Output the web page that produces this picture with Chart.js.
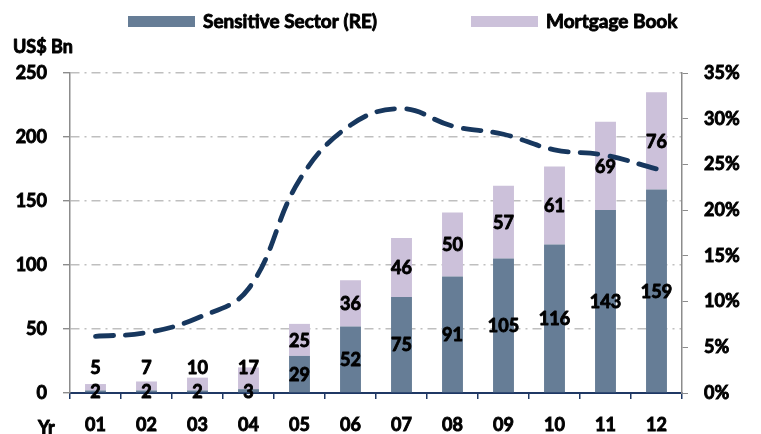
<!DOCTYPE html>
<html><head><meta charset="utf-8">
<script src="https://cdn.jsdelivr.net/npm/chart.js@4/dist/chart.umd.min.js"></script>
<style>html,body{margin:0;padding:0;background:#fff;}#wrap{width:761px;height:434px;}</style>
</head><body><div id="wrap"><canvas id="c" width="761" height="434"></canvas></div>
<script>
const categories = ['01','02','03','04','05','06','07','08','09','10','11','12'];
const sensitiveRE = [2,2,2,3,29,52,75,91,105,116,143,159];
const mortgageBook = [5,7,10,17,25,36,46,50,57,61,69,76];
const sharePct = [6.2,6.6,8.2,11.4,23.3,29.3,31.1,29.2,28.3,26.6,26.0,24.5];
const leftTicks = [0,50,100,150,200,250];
const rightTicks = [0,5,10,15,20,25,30,35];
const seriesNames = ['Sensitive Sector (RE)','Mortgage Book'];

const FONT = 'Lato';
const WEIGHT = 'bold';
const STROKE = 0.9;
const C_DARK = '#667D96';
const C_LIGHT = '#CCC1DA';
const C_LINE = '#17375E';

function boldText(ctx, t, x, y){
  ctx.lineWidth = STROKE;
  ctx.strokeStyle = '#000';
  ctx.lineJoin = 'round';
  ctx.strokeText(t, x, y);
  ctx.fillText(t, x, y);
}

const labelPlugin = {
  id:'barLabels',
  afterDatasetsDraw(chart){
    const ctx = chart.ctx;
    ctx.save();
    ctx.font = WEIGHT + ' 18px ' + FONT;
    ctx.fillStyle = '#000';
    ctx.textAlign = 'center';
    ctx.textBaseline = 'middle';
    const floorY = chart.scales.y.getPixelForValue(0) - 26;
    [1,2].forEach(di=>{
      const meta = chart.getDatasetMeta(di);
      meta.data.forEach((bar,i)=>{
        const v = chart.data.datasets[di].data[i];
        let y = (bar.y + bar.base)/2;
        if (di===2) y = Math.min(y, floorY);
        boldText(ctx, String(v), bar.x, y+1);
      });
    });
    ctx.restore();
  }
};

const extraText = {
  id:'extraText',
  afterDraw(chart){
    const ctx = chart.ctx;
    ctx.save();
    ctx.font = WEIGHT + ' 18px ' + FONT;
    ctx.fillStyle = '#000';
    ctx.textBaseline = 'middle';
    ctx.textAlign = 'left';
    boldText(ctx, 'US$ Bn', 13, 47);
    boldText(ctx, 'Yr', 38, 428);
    ctx.font = WEIGHT + ' 19px ' + FONT;
    const items = [
      {x:128, color:C_DARK, text:seriesNames[0]},
      {x:471, color:C_LIGHT, text:seriesNames[1]}
    ];
    items.forEach(it=>{
      ctx.fillStyle = it.color;
      ctx.fillRect(it.x, 16, 67, 11);
      ctx.fillStyle = '#000';
      boldText(ctx, it.text, it.x + 75, 21.5);
    });
    ctx.restore();
  }
};

const tickFont = {family:FONT, size:18, weight:WEIGHT};

new Chart(document.getElementById('c'), {
  data:{
    labels: categories,
    datasets:[
      {type:'line', label:'share', data:sharePct, yAxisID:'y1', borderColor:C_LINE, borderWidth:4.8,
       borderDash:[18,12], borderCapStyle:'round', tension:0.4, pointRadius:0, fill:false, order:0},
      {type:'bar', label:seriesNames[0], data:sensitiveRE, backgroundColor:C_DARK, yAxisID:'y',
       barPercentage:0.82, categoryPercentage:0.5, order:1, stack:'s'},
      {type:'bar', label:seriesNames[1], data:mortgageBook, backgroundColor:C_LIGHT, yAxisID:'y',
       barPercentage:0.82, categoryPercentage:0.5, order:1, stack:'s'}
    ]
  },
  options:{
    responsive:false,
    animation:false,
    layout:{padding:{top:73,left:0,right:0,bottom:0}},
    plugins:{legend:{display:false}, tooltip:{enabled:false}},
    scales:{
      x:{
        stacked:true,
        grid:{display:true, drawOnChartArea:false, drawTicks:true, tickLength:6, color:'#1F3864', lineWidth:1.5, offset:true},
        border:{display:true, color:'#1F3864', width:2},
        ticks:{font:tickFont, color:'#000', padding:15, maxRotation:0, textStrokeColor:'#000', textStrokeWidth:STROKE},
        afterFit(s){ s.height = 41; }
      },
      y:{
        stacked:true, min:0, max:250,
        afterBuildTicks(s){ s.ticks = leftTicks.map(v=>({value:v})); },
        ticks:{font:tickFont, color:'#000', padding:16, textStrokeColor:'#000', textStrokeWidth:STROKE},
        grid:{color:(c)=> c.tick && c.tick.value===0 ? 'rgba(0,0,0,0)' : '#BFBFBF', lineWidth:1.4, tickLength:7, tickColor:'#8C8C8C', tickBorderDash:[], drawTicks:true},
        border:{display:true, color:'#8C8C8C', width:1.5, dash:[9,5,2,5]},
        afterFit(s){ s.width = 70; }
      },
      y1:{
        position:'right', min:0, max:35,
        afterBuildTicks(s){ s.ticks = rightTicks.map(v=>({value:v})); },
        ticks:{font:tickFont, color:'#000', padding:16, callback:(v)=> v + '%', textStrokeColor:'#000', textStrokeWidth:STROKE},
        grid:{drawOnChartArea:false, tickLength:6, color:'#8C8C8C'},
        border:{display:true, color:'#8C8C8C', width:1.5},
        afterFit(s){ s.width = 79; }
      }
    }
  },
  plugins:[labelPlugin, extraText]
});
</script>
</body></html>
